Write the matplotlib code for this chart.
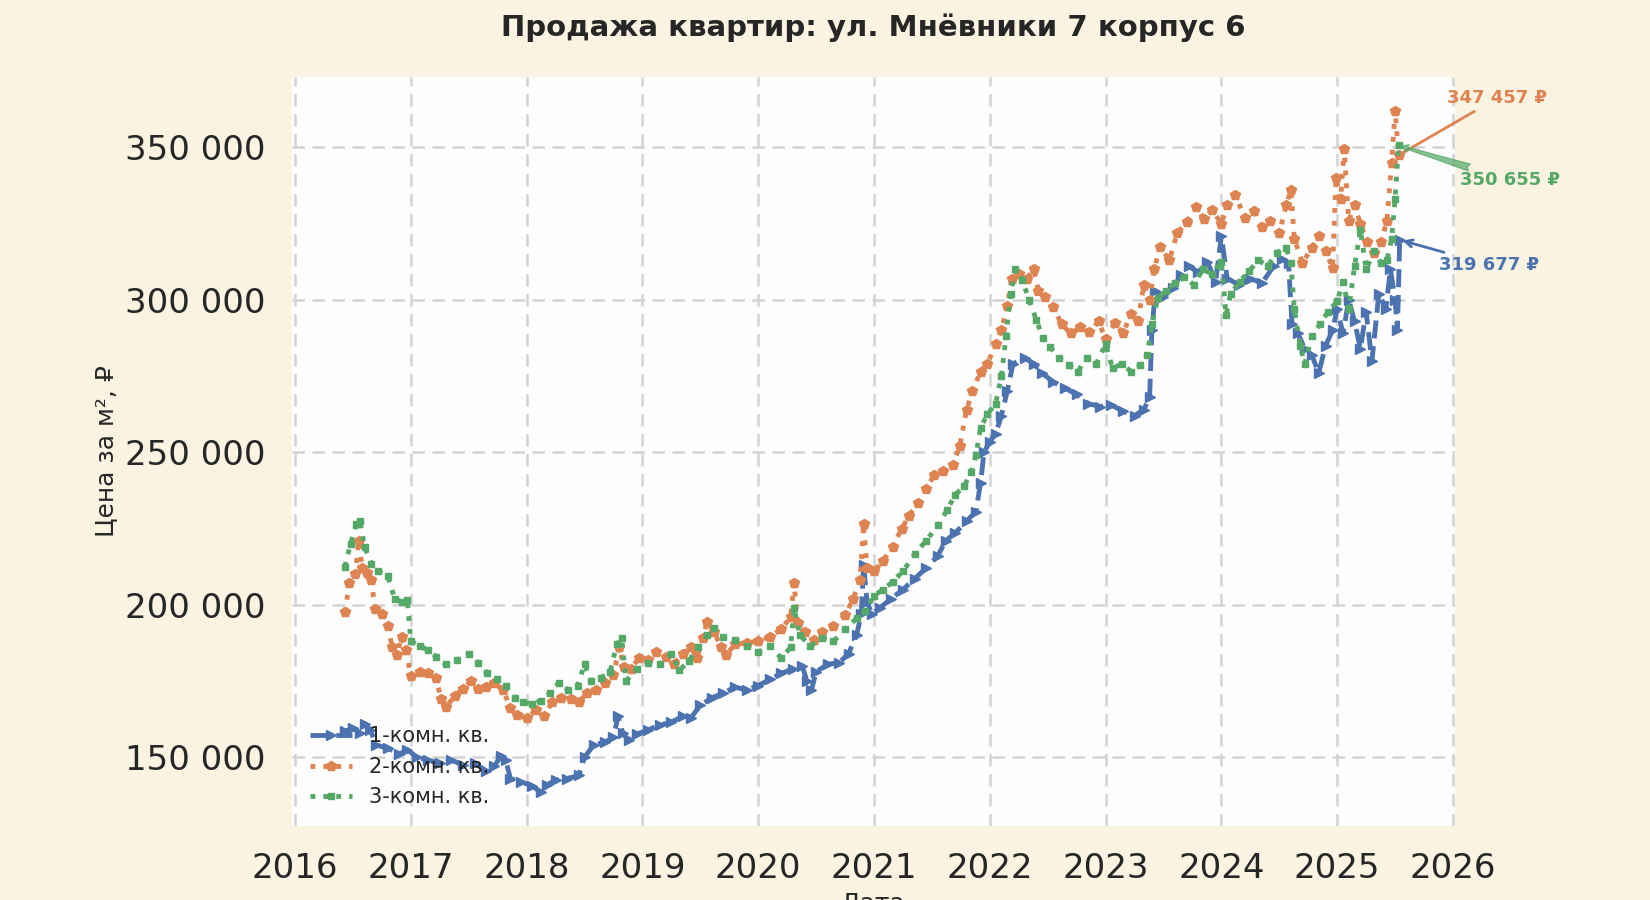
import numpy as np
import matplotlib
matplotlib.use("Agg")
import matplotlib.pyplot as plt
from matplotlib.ticker import MultipleLocator, FuncFormatter

# --- data (decimal years, price per m2, rub) --------------------------------
years_1 = [2016.43, 2016.50, 2016.56, 2016.60, 2016.65, 2016.70, 2016.80, 2016.90, 2016.97,
           2017.05, 2017.15, 2017.25, 2017.35, 2017.45, 2017.55, 2017.65, 2017.72, 2017.78,
           2017.82, 2017.86, 2017.95, 2018.05, 2018.12, 2018.18, 2018.25, 2018.35, 2018.45,
           2018.50, 2018.58, 2018.68, 2018.75, 2018.79, 2018.83, 2018.88, 2018.95, 2019.05,
           2019.15, 2019.25, 2019.35, 2019.42, 2019.50, 2019.60, 2019.70, 2019.80, 2019.90,
           2020.00, 2020.10, 2020.20, 2020.30, 2020.38, 2020.42, 2020.46, 2020.50, 2020.60,
           2020.70, 2020.78, 2020.85, 2020.89, 2020.91, 2020.94, 2020.98, 2021.05, 2021.15,
           2021.25, 2021.35, 2021.45, 2021.55, 2021.62, 2021.70, 2021.80, 2021.88, 2021.92,
           2021.95, 2022.00, 2022.05, 2022.10, 2022.15, 2022.20, 2022.30, 2022.38, 2022.45,
           2022.55, 2022.65, 2022.75, 2022.85, 2022.95, 2023.05, 2023.15, 2023.25, 2023.33,
           2023.38, 2023.40, 2023.43, 2023.50, 2023.58, 2023.65, 2023.72, 2023.80, 2023.88,
           2023.95, 2024.00, 2024.05, 2024.15, 2024.25, 2024.35, 2024.45, 2024.52, 2024.58,
           2024.61, 2024.66, 2024.72, 2024.78, 2024.84, 2024.90, 2024.96, 2025.00, 2025.05,
           2025.10, 2025.15, 2025.20, 2025.25, 2025.30, 2025.36, 2025.42, 2025.46, 2025.50,
           2025.52, 2025.54]
price_1 = [158500, 159500, 158000, 161000, 159000, 154000, 153000, 151000, 152500,
           150000, 149000, 148000, 149000, 147500, 148000, 145500, 147000, 150500,
           149000, 143000, 142000, 140500, 138600, 141000, 142500, 143000, 144000,
           150000, 154000, 155000, 156500, 163500, 158000, 155500, 157500, 159000,
           160500, 161500, 163500, 163000, 167000, 169500, 171000, 173000, 172000,
           173500, 175500, 177500, 179000, 180000, 175000, 172000, 178000, 180500,
           181000, 184000, 190000, 197000, 213000, 201000, 197000, 199000, 202000,
           205000, 208500, 212000, 216000, 221000, 223500, 227500, 230500, 240000,
           250000, 253500, 256000, 262000, 270000, 279000, 281000, 279000, 276000,
           273000, 271000, 269000, 266000, 265000, 265500, 263500, 262000, 264000,
           268000, 290000, 303000, 301000, 304000, 308000, 311000, 309000, 312500,
           306000, 321000, 307000, 305000, 307000, 305500, 311000, 313500, 312000,
           292000, 289000, 284000, 282000, 276000, 285000, 290000, 297000, 289000,
           300000, 293000, 284000, 296000, 280000, 302000, 297000, 310000, 300000,
           290000, 319677]

years_2 = [2016.43, 2016.47, 2016.52, 2016.55, 2016.58, 2016.62, 2016.66, 2016.69, 2016.75,
           2016.80, 2016.84, 2016.88, 2016.92, 2016.96, 2017.00, 2017.08, 2017.15, 2017.22,
           2017.26, 2017.30, 2017.38, 2017.45, 2017.52, 2017.58, 2017.65, 2017.72, 2017.80,
           2017.86, 2017.92, 2018.00, 2018.08, 2018.15, 2018.22, 2018.30, 2018.38, 2018.45,
           2018.52, 2018.60, 2018.68, 2018.75, 2018.80, 2018.84, 2018.90, 2018.97, 2019.05,
           2019.12, 2019.20, 2019.27, 2019.35, 2019.42, 2019.47, 2019.52, 2019.56, 2019.62,
           2019.68, 2019.72, 2019.80, 2019.90, 2020.00, 2020.10, 2020.20, 2020.28, 2020.31,
           2020.34, 2020.40, 2020.48, 2020.55, 2020.65, 2020.75, 2020.82, 2020.88, 2020.91,
           2020.94, 2021.00, 2021.08, 2021.16, 2021.24, 2021.30, 2021.38, 2021.45, 2021.52,
           2021.60, 2021.68, 2021.74, 2021.80, 2021.85, 2021.92, 2021.98, 2022.05, 2022.10,
           2022.15, 2022.19, 2022.25, 2022.32, 2022.38, 2022.42, 2022.48, 2022.55, 2022.62,
           2022.70, 2022.78, 2022.86, 2022.94, 2023.00, 2023.08, 2023.15, 2023.22, 2023.28,
           2023.33, 2023.38, 2023.42, 2023.47, 2023.55, 2023.62, 2023.70, 2023.78, 2023.85,
           2023.92, 2024.00, 2024.05, 2024.12, 2024.20, 2024.28, 2024.35, 2024.42, 2024.50,
           2024.56, 2024.60, 2024.63, 2024.70, 2024.78, 2024.84, 2024.90, 2024.96, 2024.99,
           2025.03, 2025.06, 2025.10, 2025.15, 2025.20, 2025.26, 2025.32, 2025.38, 2025.43,
           2025.47, 2025.50, 2025.53]
price_2 = [197500, 207000, 210000, 221000, 212000, 210500, 208000, 198500, 197000,
           193000, 186000, 183500, 189500, 185000, 176500, 178000, 177500, 176000,
           169000, 166500, 170000, 172500, 175000, 172500, 173000, 174500, 172000,
           166000, 164000, 162800, 165500, 163500, 168000, 169500, 169000, 168000,
           171000, 172000, 174500, 177000, 186000, 179500, 179000, 182500, 182000,
           184500, 183000, 180500, 184000, 186000, 182500, 189000, 194500, 191000,
           186000, 183500, 187000, 187500, 188000, 189500, 192000, 196000, 207000,
           194000, 191000, 188500, 191000, 193000, 196500, 202000, 208000, 226500,
           212000, 211000, 214500, 219000, 225000, 229000, 233500, 238000, 242500,
           244000, 246000, 252000, 264000, 270000, 276500, 279000, 285500, 290000,
           298000, 307000, 308500, 307000, 310000, 303000, 301000, 297500, 292000,
           289000, 291000, 289500, 293000, 287000, 292500, 289000, 295500, 293000,
           305000, 300000, 310000, 317500, 313000, 322000, 325500, 330500, 326500,
           329500, 325000, 331000, 334500, 327000, 329000, 324000, 326000, 322000,
           331000, 336000, 320000, 312000, 317000, 321000, 316000, 310500, 340000,
           333000, 349500, 326000, 331000, 325000, 319000, 315500, 319000, 326000,
           345000, 362000, 347457]

years_3 = [2016.43, 2016.48, 2016.53, 2016.56, 2016.60, 2016.66, 2016.72, 2016.80, 2016.86,
           2016.92, 2016.97, 2017.00, 2017.08, 2017.15, 2017.22, 2017.30, 2017.40, 2017.50,
           2017.58, 2017.66, 2017.74, 2017.82, 2017.90, 2017.97, 2018.05, 2018.12, 2018.20,
           2018.28, 2018.36, 2018.44, 2018.50, 2018.56, 2018.64, 2018.72, 2018.78, 2018.82,
           2018.86, 2018.95, 2019.05, 2019.15, 2019.25, 2019.32, 2019.40, 2019.48, 2019.56,
           2019.62, 2019.70, 2019.80, 2019.90, 2020.00, 2020.10, 2020.20, 2020.28, 2020.31,
           2020.36, 2020.45, 2020.55, 2020.65, 2020.75, 2020.85, 2020.92, 2021.00, 2021.08,
           2021.16, 2021.25, 2021.35, 2021.45, 2021.55, 2021.63, 2021.70, 2021.78, 2021.84,
           2021.88, 2021.92, 2021.98, 2022.05, 2022.10, 2022.14, 2022.18, 2022.22, 2022.28,
           2022.34, 2022.40, 2022.46, 2022.52, 2022.60, 2022.68, 2022.76, 2022.84, 2022.92,
           2023.00, 2023.06, 2023.14, 2023.22, 2023.30, 2023.36, 2023.40, 2023.45, 2023.52,
           2023.60, 2023.68, 2023.76, 2023.84, 2023.92, 2024.00, 2024.04, 2024.08, 2024.16,
           2024.24, 2024.32, 2024.40, 2024.48, 2024.56, 2024.60, 2024.63, 2024.68, 2024.72,
           2024.78, 2024.85, 2024.92, 2025.00, 2025.05, 2025.10, 2025.15, 2025.20, 2025.25,
           2025.32, 2025.38, 2025.43, 2025.47, 2025.50, 2025.53]
price_3 = [212500, 220000, 226500, 227500, 219000, 213500, 211000, 209500, 202000,
           201000, 201500, 188000, 186500, 185000, 183000, 180500, 182000, 184000,
           181000, 177500, 175500, 173500, 169500, 168000, 167500, 168500, 171000,
           174500, 172000, 173500, 180500, 175000, 176000, 178000, 187000, 189000,
           175000, 179000, 181000, 180500, 184000, 178500, 181500, 186000, 190000,
           192500, 189500, 188500, 186500, 184500, 186500, 182500, 186000, 199000,
           190000, 186500, 189000, 188000, 192000, 195500, 198000, 203000, 205000,
           207500, 211000, 216500, 221000, 226000, 231000, 236000, 239000, 243500,
           249000, 258000, 262500, 266000, 275000, 288000, 302000, 310000, 306500,
           300000, 293500, 287500, 284500, 281000, 278500, 276500, 281000, 279000,
           285500, 277500, 279000, 276500, 278500, 282000, 292000, 300500, 303000,
           305500, 307500, 305000, 310000, 308500, 312500, 295000, 302000, 306000,
           309500, 313000, 311000, 315500, 317000, 312000, 297000, 285000, 279000,
           288000, 292000, 296000, 299500, 306000, 297000, 311000, 323000, 310000,
           316000, 312000, 313000, 320000, 333000, 350655]

labels = ["1-комн. кв.", "2-комн. кв.", "3-комн. кв."]
colors = ["#4C72B0", "#DD8452", "#55A868"]

BG = "#FAF3E1"
TXT = "#262626"

plt.rcParams["font.family"] = ["DejaVu Sans"]

fig = plt.figure(figsize=(16.5, 9), dpi=100, facecolor=BG)
ax = fig.add_axes([0.1767, 0.0822, 0.7053, 0.8325])
ax.set_facecolor("#FDFDFD")
for s in ax.spines.values():
    s.set_visible(False)

series = [(years_1, price_1), (years_2, price_2), (years_3, price_3)]
styles = [dict(ls="--", marker=">", ms=7),
          dict(ls=":", marker="p", ms=7),
          dict(ls=":", marker="s", ms=4)]
for (xs, ys), lab, c, st in zip(series, labels, colors, styles):
    ax.plot(xs, ys, color=c, lw=3.5, label=lab, **st)

ax.set_xlim(2015.97, 2026.02)
ax.xaxis.set_major_locator(MultipleLocator(1))
ax.xaxis.set_major_formatter(FuncFormatter(lambda v, p: f"{v:.0f}"))
ax.yaxis.set_major_locator(MultipleLocator(50000))
ax.yaxis.set_major_formatter(FuncFormatter(lambda v, p: f"{v:,.0f}".replace(",", " ")))
ax.tick_params(axis="both", length=0, labelsize=24.5, colors=TXT, pad=19)
ax.grid(True, ls=(0, (5, 3)), color="#D3D3D3", lw=1.8)

ax.set_title("Продажа квартир: ул. Мнёвники 7 корпус 6", fontsize=21,
             fontweight="bold", color=TXT, pad=29)
ax.set_ylabel("Цена за м², ₽", fontsize=18, color=TXT, labelpad=5)
ax.set_xlabel("Дата", fontsize=18, color=TXT, labelpad=5)

ax.legend(loc="lower left", fontsize=15, frameon=False, labelcolor=TXT)

# last-value annotations
offsets = [(64, -18), (71, 41), (80, -25)]
arrows = [dict(arrowstyle="->", lw=2),
          dict(arrowstyle="-", lw=2),
          dict(arrowstyle="fancy", alpha=0.7)]
for (xs, ys), c, off, ap in zip(series, colors, offsets, arrows):
    ax.annotate(f"{ys[-1]:,.0f}".replace(",", " ") + " ₽",
                xy=(xs[-1], ys[-1]), xytext=off, textcoords="offset points",
                ha="center", va="center", fontsize=13, fontweight="bold",
                color=c, annotation_clip=False,
                arrowprops=dict(color=c, **ap))

fig.savefig("out.png", dpi=100, facecolor=BG)
